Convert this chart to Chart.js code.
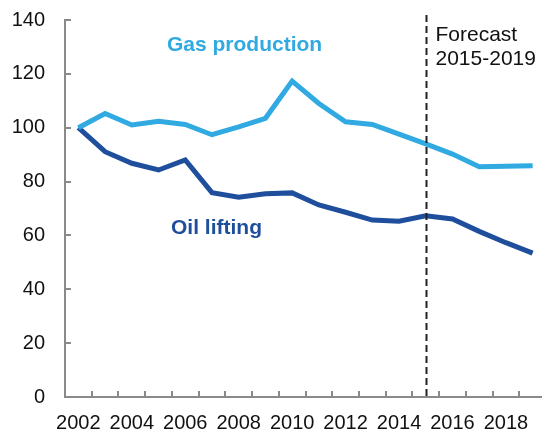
<!DOCTYPE html>
<html>
<head>
<meta charset="utf-8">
<script src="https://cdn.jsdelivr.net/npm/chart.js@4/dist/chart.umd.min.js"></script>
<style>
  html, body { margin: 0; padding: 0; background: #fff; overflow: hidden; }
  #wrap { width: 548px; height: 430px; }
</style>
</head>
<body>
<div id="wrap"><canvas id="chartProducao" width="548" height="430"></canvas></div>
<script>
const anos = ['2002','2003','2004','2005','2006','2007','2008','2009','2010','2011','2012','2013','2014','2015','2016','2017','2018','2019'];
const gasProducao = [100, 105.3, 101, 102.4, 101.2, 97.4, 100.3, 103.5, 117.3, 109, 102.2, 101.2, 97.6, 94, 90.2, 85.5, 85.7, 85.9];
const oilLifting = [100, 91.1, 86.8, 84.3, 88, 75.9, 74.2, 75.5, 75.8, 71.3, 68.6, 65.7, 65.3, 67.3, 66.1, 61.5, 57.3, 53.4];
const yTicks = [0, 20, 40, 60, 80, 100, 120, 140];
const anoPrevisao = '2015';

const corGas = '#31a9e1';
const corOil = '#1f4f9c';
const corEixo = '#8a8a8a';
const fonte = 'Arial, "Liberation Sans", sans-serif';

// marcas dos eixos voltadas para dentro + linha tracejada + rótulos
const extras = {
    id: 'extras',
    afterDatasetsDraw(chart) {
        const { ctx, chartArea, scales: { x, y } } = chart;
        ctx.save();
        ctx.strokeStyle = corEixo;
        ctx.lineWidth = 2;
        const meio = (x.getPixelForValue(1) - x.getPixelForValue(0)) / 2;
        for (let i = 0; i <= anos.length; i++) {
            const px = Math.round(x.getPixelForValue(i) - meio);
            ctx.beginPath();
            ctx.moveTo(px, chartArea.bottom);
            ctx.lineTo(px, chartArea.bottom - 6);
            ctx.stroke();
        }
        yTicks.forEach(v => {
            const py = Math.round(y.getPixelForValue(v));
            ctx.beginPath();
            ctx.moveTo(chartArea.left, py);
            ctx.lineTo(chartArea.left + 6, py);
            ctx.stroke();
        });

        // linha da previsão
        const xp = Math.round(x.getPixelForValue(anos.indexOf(anoPrevisao))) + 0.5;
        ctx.strokeStyle = '#222';
        ctx.lineWidth = 2;
        ctx.setLineDash([7, 4]);
        ctx.beginPath();
        ctx.moveTo(xp, chartArea.top - 5);
        ctx.lineTo(xp, chartArea.bottom);
        ctx.stroke();
        ctx.setLineDash([]);

        ctx.textBaseline = 'middle';
        ctx.fillStyle = '#111';
        ctx.textAlign = 'left';
        ctx.font = '21px ' + fonte;
        ctx.fillText('Forecast', xp + 9, y.getPixelForValue(134.2));
        ctx.fillText('2015-2019', xp + 9, y.getPixelForValue(125.6));

        ctx.textAlign = 'center';
        ctx.font = 'bold 21px ' + fonte;
        ctx.fillStyle = corGas;
        ctx.fillText('Gas production', x.getPixelForValue(6.22), y.getPixelForValue(130.7));
        ctx.fillStyle = corOil;
        ctx.fillText('Oil lifting', x.getPixelForValue(5.17), y.getPixelForValue(62.8));
        ctx.restore();
    }
};

new Chart(document.getElementById('chartProducao').getContext('2d'), {
    type: 'line',
    data: {
        labels: anos,
        datasets: [
            { label: 'Gas production', data: gasProducao, borderColor: corGas, borderWidth: 5, pointRadius: 0, tension: 0, fill: false },
            { label: 'Oil lifting', data: oilLifting, borderColor: corOil, borderWidth: 5, pointRadius: 0, tension: 0, fill: false }
        ]
    },
    options: {
        responsive: false,
        animation: false,
        layout: { padding: { top: 20, right: 2, left: 0, bottom: 0 } },
        plugins: { legend: { display: false }, tooltip: { enabled: false } },
        scales: {
            x: {
                offset: true,
                grid: { display: false, drawTicks: false },
                border: { display: true, color: corEixo, width: 2 },
                ticks: {
                    autoSkip: false,
                    maxRotation: 0,
                    padding: 14,
                    color: '#111',
                    font: { family: fonte, size: 20 },
                    callback: (v, i) => (i % 2 === 0 ? anos[i] : '')
                },
                afterFit(scale) { scale.height = 33; scale.paddingLeft = 0; scale.paddingRight = 0; }
            },
            y: {
                min: 0,
                max: 140,
                grid: { display: false, drawTicks: false },
                border: { display: true, color: corEixo, width: 2 },
                ticks: {
                    stepSize: 20,
                    padding: 20,
                    color: '#111',
                    font: { family: fonte, size: 20 }
                },
                afterFit(scale) { scale.width = 65; scale.paddingTop = 0; scale.paddingBottom = 0; }
            }
        }
    },
    plugins: [extras]
});
</script>
</body>
</html>
